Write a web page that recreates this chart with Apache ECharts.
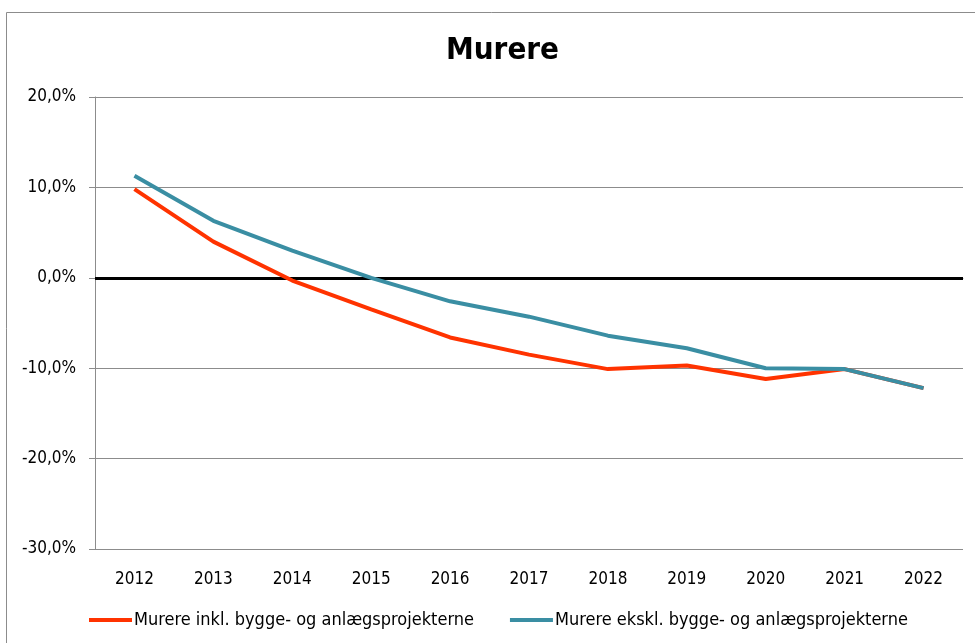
<!DOCTYPE html>
<html>
<head>
<meta charset="utf-8">
<script src="https://cdn.jsdelivr.net/npm/echarts@6/dist/echarts.min.js"></script>
<style>
  html, body { margin: 0; padding: 0; background: #fff; }
  #chart { width: 975px; height: 643px; }
</style>
</head>
<body>
<div id="chart"></div>
<script>
var years = ['2012', '2013', '2014', '2015', '2016', '2017', '2018', '2019', '2020', '2021', '2022'];
var inkl = [9.8, 4.0, -0.3, -3.5, -6.6, -8.5, -10.1, -9.7, -11.2, -10.1, -12.2];
var ekskl = [11.3, 6.3, 3.0, 0.0, -2.6, -4.3, -6.4, -7.8, -10.0, -10.1, -12.2];
var nameInkl = 'Murere inkl. bygge- og anlægsprojekterne';
var nameEkskl = 'Murere ekskl. bygge- og anlægsprojekterne';

var font = "'Liberation Sans Narrow', 'DejaVu Sans Condensed', sans-serif";

var chart = echarts.init(document.getElementById('chart'));
var option = {
  animation: false,
  textStyle: { fontFamily: font },
  // outer frame, offset like the original export
  graphic: [{
    type: 'rect',
    silent: true,
    shape: { x: 6.5, y: 12.5, width: 1000, height: 700 },
    style: { fill: 'none', stroke: '#8c8c8c', lineWidth: 1 }
  }],
  title: {
    text: 'Murere',
    left: 441,
    top: 30,
    textStyle: { fontFamily: font, fontSize: 31, fontWeight: 'bold', color: '#000' }
  },
  legend: {
    top: 606,
    left: 84,
    itemWidth: 43,
    itemHeight: 4,
    itemGap: 36,
    icon: 'rect',
    textStyle: { fontSize: 18, color: '#000', padding: [0, 0, 0, -3] },
    data: [nameInkl, nameEkskl]
  },
  grid: { left: 95, right: 12, top: 97, bottom: 94 },
  xAxis: {
    type: 'category',
    data: years,
    boundaryGap: true,
    axisLine: { lineStyle: { color: '#8c8c8c', width: 1 } },
    axisTick: { show: false },
    axisLabel: { color: '#000', fontSize: 17, margin: 22 }
  },
  yAxis: {
    type: 'value',
    min: -30,
    max: 20,
    interval: 10,
    axisLine: { show: true, lineStyle: { color: '#8c8c8c', width: 1 } },
    axisTick: { show: true, length: 6, lineStyle: { color: '#8c8c8c' } },
    splitLine: { lineStyle: { color: '#8c8c8c', width: 1 } },
    axisLabel: {
      color: '#000',
      fontSize: 17,
      margin: 19,
      formatter: function (v) { return v.toFixed(1).replace('.', ',') + '%'; }
    }
  },
  series: [{
    name: nameInkl,
    type: 'line',
    data: inkl,
    symbol: 'none',
    lineStyle: { color: '#ff3300', width: 4 },
    itemStyle: { color: '#ff3300' },
    z: 3,
    markLine: {
      silent: true,
      symbol: 'none',
      label: { show: false },
      lineStyle: { color: '#000', width: 3, type: 'solid' },
      data: [{ yAxis: 0 }],
      z: 1
    }
  }, {
    name: nameEkskl,
    type: 'line',
    data: ekskl,
    symbol: 'none',
    lineStyle: { color: '#3a8ea3', width: 4 },
    itemStyle: { color: '#3a8ea3' },
    z: 4
  }]
};
option && chart.setOption(option);
</script>
</body>
</html>
